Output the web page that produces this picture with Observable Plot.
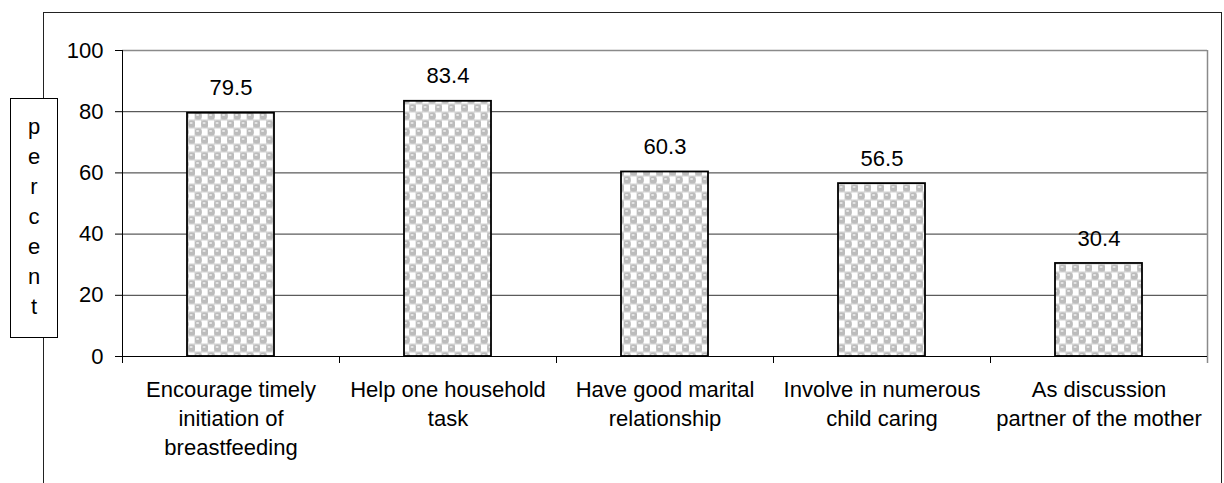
<!DOCTYPE html>
<html>
<head>
<meta charset="utf-8">
<script src="https://cdn.jsdelivr.net/npm/d3@7"></script>
<script src="https://cdn.jsdelivr.net/npm/@observablehq/plot@0.6"></script>
<style>
  html, body { margin: 0; padding: 0; background: #fff; }
  #wrap { position: relative; width: 1224px; height: 483px; overflow: hidden; font-family: "Liberation Sans", Arial, sans-serif; }
  #outer { position: absolute; left: 43px; top: 12px; width: 1179px; height: 600px; border: 1px solid #222; box-sizing: border-box; }
  #chart { position: absolute; left: 0; top: 0; }
  #ylab { position: absolute; left: 10px; top: 98px; width: 48px; height: 240px; border: 1px solid #000; box-sizing: border-box; background: #fff;
          font-size: 22px; color: #000; text-align: center; line-height: 30px; padding-top: 13px; }
</style>
</head>
<body>
<div id="wrap">
  <div id="outer"></div>
  <div id="chart"></div>
  <div id="ylab"></div>
</div>
<script>
const categories = ["Encourage timely initiation of breastfeeding", "Help one household task", "Have good marital relationship", "Involve in numerous child caring", "As discussion partner of the mother"];
const xLabels = ["Encourage timely\ninitiation of\nbreastfeeding", "Help one household\ntask", "Have good marital\nrelationship", "Involve in numerous\nchild caring", "As discussion\npartner of the mother"];
const values = [79.5, 83.4, 60.3, 56.5, 30.4];
const yTicks = [0, 20, 40, 60, 80, 100];
const yGrid = [20, 40, 60, 80];
const axisTitle = "percent";

const W = 1224, H = 483, mL = 122, mR = 17, mT = 50, mB = 127;
const step = (W - mL - mR) / categories.length;
const unitsPerPx = 100 / (H - mT - mB);
const below = -7 * unitsPerPx;

const data = categories.map((c, i) => ({category: c, value: values[i], label: xLabels[i]}));
const font = "'Liberation Sans', Arial, sans-serif";

const chart = Plot.plot({
  width: W, height: H,
  marginLeft: mL, marginRight: mR, marginTop: mT, marginBottom: mB,
  x: {domain: categories, paddingInner: 0.6, paddingOuter: 0.3, axis: null},
  y: {domain: [0, 100], axis: null},
  style: {fontFamily: font, fontSize: "22px", background: "transparent", color: "#000", overflow: "visible"},
  marks: [
    Plot.ruleY(yGrid, {stroke: "#333", strokeWidth: 1}),
    Plot.ruleY([100], {stroke: "#8a8a8a", strokeWidth: 1.5}),
    Plot.ruleX([categories[categories.length - 1]], {dx: step / 2, y1: below, y2: 100, stroke: "#8a8a8a", strokeWidth: 1.5}),
    Plot.ruleX(categories.slice(1), {dx: -step / 2, y1: below, y2: 0, stroke: "#000"}),
    Plot.barY(data, {x: "category", y: "value", fill: "url(#dots)", stroke: "#000", strokeWidth: 1.8}),
    Plot.ruleY([0], {stroke: "#000", strokeWidth: 1}),
    Plot.ruleX([categories[0]], {dx: -step / 2, y1: below, y2: 100, stroke: "#000"}),
    Plot.axisY({ticks: yTicks, label: null, tickSize: 7, tickPadding: 12, fontSize: 22, stroke: "#000", fill: "#000"}),
    Plot.text(data, {x: "category", y: "value", text: d => d.value.toFixed(1), dy: -25, fontSize: 22, fill: "#000"}),
    Plot.text(data, {x: "category", frameAnchor: "bottom", text: "label", lineAnchor: "top", dy: 20, lineHeight: 1.32, fontSize: 22, fill: "#000"})
  ]
});

// pattern fill for bars
const ns = "http://www.w3.org/2000/svg";
const defs = document.createElementNS(ns, "defs");
defs.innerHTML = `
  <pattern id="dots" width="13" height="16" patternUnits="userSpaceOnUse">
    <rect width="13" height="16" fill="#d2d2d2"/>
    <rect x="6.5" y="0.5" width="6" height="7" fill="#ffffff"/>
    <rect x="0" y="8.5" width="6" height="7" fill="#ffffff"/>
    <circle cx="3.25" cy="4" r="3.6" fill="#bcbcbc"/>
    <circle cx="9.75" cy="12" r="3.6" fill="#bcbcbc"/>
    <ellipse cx="2.6" cy="3" rx="1.6" ry="0.9" fill="#e8e8e8"/>
    <ellipse cx="9.1" cy="11" rx="1.6" ry="0.9" fill="#e8e8e8"/>
  </pattern>`;
chart.insertBefore(defs, chart.firstChild);

document.getElementById("chart").appendChild(chart);
document.getElementById("ylab").innerHTML = axisTitle.split("").join("<br>");
</script>
</body>
</html>
